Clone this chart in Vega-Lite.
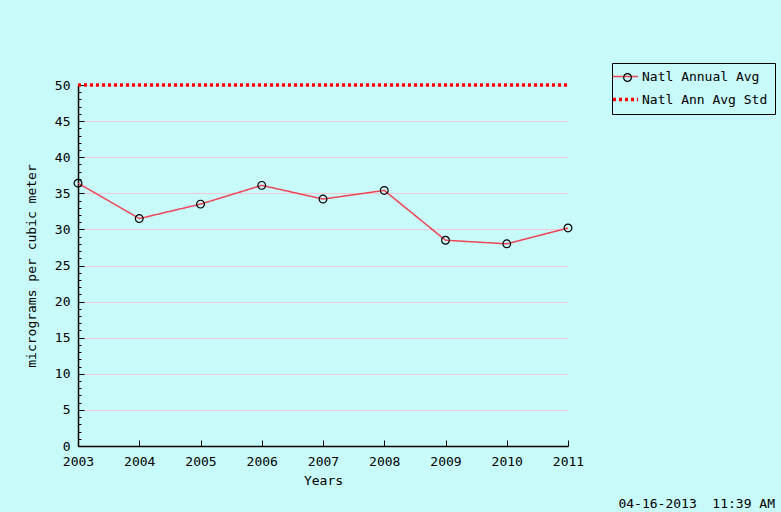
{
  "$schema": "https://vega.github.io/schema/vega-lite/v6.json",
  "width": 490,
  "height": 361,
  "autosize": {"type": "none"},
  "padding": {"left": 78, "top": 85, "right": 213, "bottom": 66},
  "background": "#c8fafa",
  "config": {
    "view": {"stroke": null},
    "font": "DejaVu Sans Mono",
    "axis": {
      "labelFont": "DejaVu Sans Mono",
      "titleFont": "DejaVu Sans Mono",
      "labelFontSize": 13,
      "titleFontSize": 13,
      "titleFontWeight": "normal",
      "labelColor": "black",
      "titleColor": "black",
      "domainColor": "black",
      "tickColor": "black"
    }
  },
  "title": {
    "text": "04-16-2013\u00a0\u00a011:39 AM",
    "orient": "bottom",
    "anchor": "end",
    "frame": "group",
    "dx": 207,
    "offset": 11,
    "font": "DejaVu Sans Mono",
    "fontSize": 13,
    "fontWeight": "normal",
    "color": "black"
  },
  "datasets": {
    "avg": [
      {"year": 2003, "value": 36.4, "series": "Natl Annual Avg"},
      {"year": 2004, "value": 31.5, "series": "Natl Annual Avg"},
      {"year": 2005, "value": 33.5, "series": "Natl Annual Avg"},
      {"year": 2006, "value": 36.1, "series": "Natl Annual Avg"},
      {"year": 2007, "value": 34.2, "series": "Natl Annual Avg"},
      {"year": 2008, "value": 35.4, "series": "Natl Annual Avg"},
      {"year": 2009, "value": 28.5, "series": "Natl Annual Avg"},
      {"year": 2010, "value": 28.0, "series": "Natl Annual Avg"},
      {"year": 2011, "value": 30.2, "series": "Natl Annual Avg"}
    ],
    "std": [
      {"year": 2003, "value": 50, "series": "Natl Ann Avg Std"},
      {"year": 2011, "value": 50, "series": "Natl Ann Avg Std"}
    ],
    "minor": [
      {"v": 0},{"v": 1},{"v": 2},{"v": 3},{"v": 4},{"v": 5},{"v": 6},{"v": 7},{"v": 8},{"v": 9},
      {"v": 10},{"v": 11},{"v": 12},{"v": 13},{"v": 14},{"v": 15},{"v": 16},{"v": 17},{"v": 18},{"v": 19},
      {"v": 20},{"v": 21},{"v": 22},{"v": 23},{"v": 24},{"v": 25},{"v": 26},{"v": 27},{"v": 28},{"v": 29},
      {"v": 30},{"v": 31},{"v": 32},{"v": 33},{"v": 34},{"v": 35},{"v": 36},{"v": 37},{"v": 38},{"v": 39},
      {"v": 40},{"v": 41},{"v": 42},{"v": 43},{"v": 44},{"v": 45},{"v": 46},{"v": 47},{"v": 48},{"v": 49},{"v": 50}
    ]
  },
  "encoding": {
    "x": {
      "field": "year",
      "type": "quantitative",
      "scale": {"domain": [2003, 2011], "nice": false, "zero": false},
      "axis": {
        "values": [2003, 2004, 2005, 2006, 2007, 2008, 2009, 2010, 2011],
        "format": "d",
        "tickSize": -6,
        "labelPadding": 15,
        "labelFlush": false,
        "grid": false,
        "domainWidth": 1.5,
        "title": "Years",
        "titlePadding": 6
      }
    }
  },
  "layer": [
    {
      "encoding": {
        "y": {
          "field": "value",
          "type": "quantitative",
          "scale": {"domain": [0, 50], "nice": false},
          "axis": {
            "orient": "left",
            "values": [0, 5, 10, 15, 20, 25, 30, 35, 40, 45, 50],
            "tickSize": -6,
            "labelPadding": 14,
            "labelFlush": false,
            "grid": true,
            "gridColor": "#f4c9d6",
            "gridWidth": 1,
            "domainWidth": 1.5,
            "title": "micrograms per cubic meter",
            "titlePadding": 16
          }
        }
      },
      "layer": [
        {
          "data": {"name": "std"},
          "mark": {"type": "line", "strokeWidth": 3.5},
          "encoding": {
            "color": {
              "field": "series",
              "type": "nominal",
              "scale": {"domain": ["Natl Annual Avg", "Natl Ann Avg Std"], "range": ["#ee4455", "#ff0000"]},
              "legend": {
                "orient": "none",
                "legendX": 534,
                "legendY": -22,
                "title": null,
                "fillColor": "#c8fafa",
                "strokeColor": "black",
                "padding": 7,
                "labelFont": "DejaVu Sans Mono",
                "labelFontSize": 13,
                "labelColor": "black",
                "labelOffset": 10,
                "symbolType": "stroke",
                "symbolSize": 625,
                "symbolStrokeWidth": 1.5,
                "rowPadding": 8,
                "encode": {
                  "symbols": {"update": {"strokeWidth": {"signal": "datum.value === 'Natl Ann Avg Std' ? 3.5 : 1.5"}}}
                }
              }
            },
            "strokeDash": {
              "field": "series",
              "type": "nominal",
              "scale": {"domain": ["Natl Annual Avg", "Natl Ann Avg Std"], "range": [[1, 0], [3, 3]]},
              "legend": null
            }
          }
        },
        {
          "data": {"name": "avg"},
          "mark": {"type": "line", "strokeWidth": 1.5},
          "encoding": {
            "color": {"field": "series", "type": "nominal"},
            "strokeDash": {"field": "series", "type": "nominal"}
          }
        },
        {
          "data": {"name": "avg"},
          "mark": {"type": "point", "filled": false, "stroke": "black", "strokeWidth": 1.2, "size": 60, "opacity": 1},
          "encoding": {
            "shape": {
              "datum": "Natl Annual Avg",
              "type": "nominal",
              "scale": {"range": ["circle"]},
              "legend": {
                "orient": "none",
                "legendX": 539,
                "legendY": -18,
                "title": null,
                "padding": 4,
                "labelExpr": "''",
                "labelFontSize": 13,
                "symbolSize": 60,
                "symbolStrokeColor": "black",
                "symbolFillColor": "transparent",
                "symbolStrokeWidth": 1.2
              }
            }
          }
        }
      ]
    },
    {
      "data": {"name": "minor"},
      "mark": {"type": "tick", "opacity": 0},
      "encoding": {
        "x": {"value": 0},
        "y": {
          "field": "v",
          "type": "quantitative",
          "scale": {"domain": [0, 50], "nice": false},
          "axis": {
            "orient": "left",
            "values": [0,1,2,3,4,5,6,7,8,9,10,11,12,13,14,15,16,17,18,19,20,21,22,23,24,25,26,27,28,29,30,31,32,33,34,35,36,37,38,39,40,41,42,43,44,45,46,47,48,49,50],
            "labels": false,
            "domain": false,
            "grid": false,
            "tickSize": -3,
            "title": null
          }
        }
      }
    }
  ],
  "resolve": {"axis": {"y": "independent"}}
}
